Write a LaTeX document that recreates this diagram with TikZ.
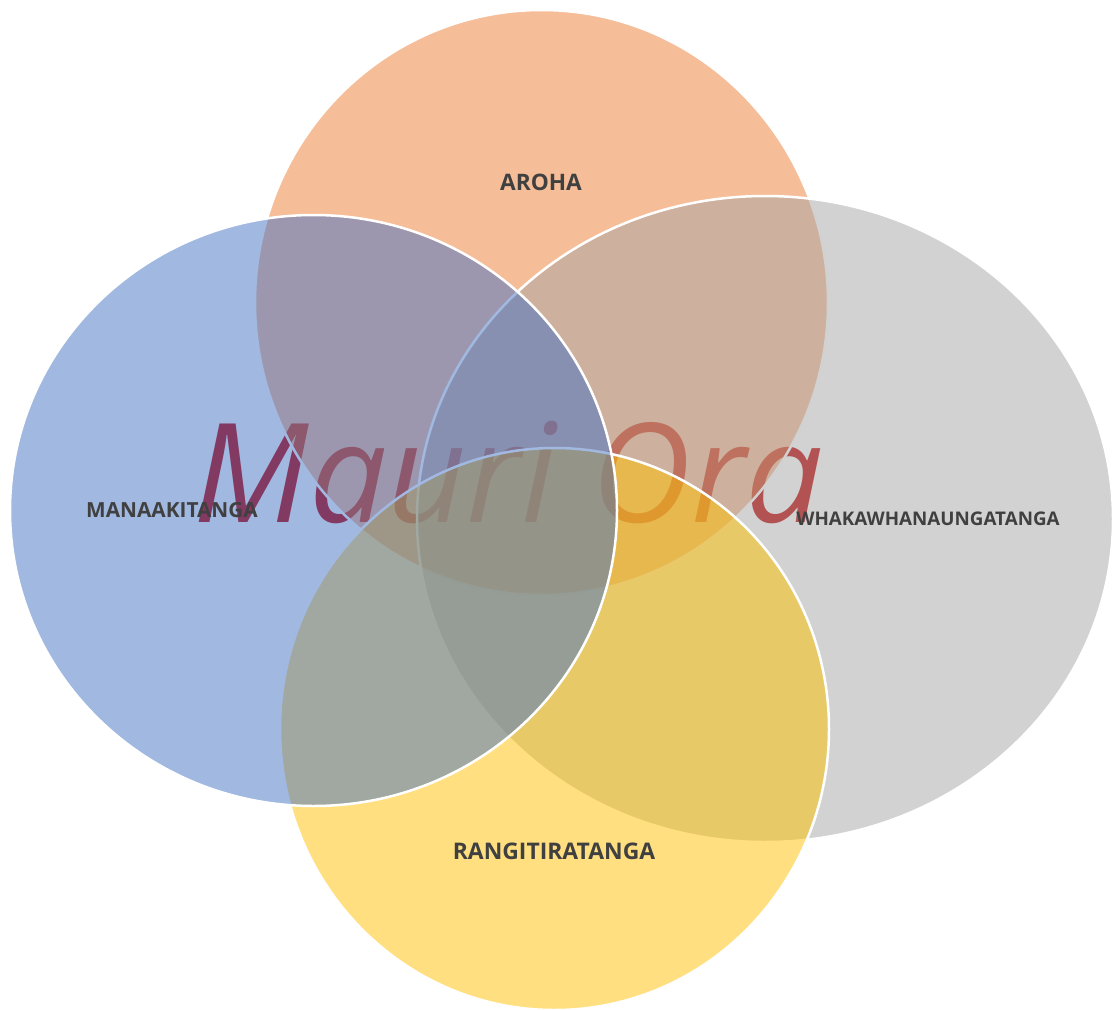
\documentclass[tikz,border=0pt]{standalone}
\usepackage{fontspec}
\setmainfont{Open Sans}
\usetikzlibrary{shapes.geometric}

\definecolor{arohaorange}{HTML}{ED7D31}
\definecolor{manaakiblue}{HTML}{4472C4}
\definecolor{whanaugray}{HTML}{A5A5A5}
\definecolor{rangiyellow}{HTML}{FFC000}
\definecolor{wordgray}{HTML}{404040}
\definecolor{oradred}{HTML}{C20000}

\begin{document}
\begin{tikzpicture}[
    x=1pt, y=-1pt,
    petal/.style={ellipse, draw=white, line width=2.5pt, fill opacity=0.5, draw opacity=1, inner sep=0pt},
    word/.style={text=wordgray, inner sep=0pt}
]
\useasboundingbox (0,0) rectangle (1112,1010);

% Title sits underneath the four ellipses
\node[anchor=base, text=oradred, font=\fontsize{138}{138}\selectfont\itshape, inner sep=0pt] (mauri) at (509,522) {Mauri Ora};

% Ellipses, back to front
\node[petal, fill=arohaorange, minimum width=573, minimum height=585] (aroha) at (541.5,302.5) {};
\node[petal, fill=whanaugray, minimum width=696, minimum height=646] (whanau) at (765,519) {};
\node[petal, fill=rangiyellow, minimum width=549, minimum height=562] (rangi) at (554.5,729) {};
\node[petal, fill=manaakiblue, minimum width=607, minimum height=591] (manaaki) at (313.5,510.5) {};

% Labels
\node[word, font=\fontsize{22.7}{26}\selectfont\bfseries] (arohatext) at (541,182) {AROHA};
\node[word, font=\fontsize{20.8}{24}\selectfont\bfseries] (manaakitext) at (172,510) {MANAAKITANGA};
\node[word, font=\fontsize{18.8}{22}\selectfont\bfseries] (whanautext) at (928,519) {WHAKAWHANAUNGATANGA};
\node[word, font=\fontsize{22.9}{26}\selectfont\bfseries] (rangitext) at (554,851) {RANGITIRATANGA};

\end{tikzpicture}
\end{document}
